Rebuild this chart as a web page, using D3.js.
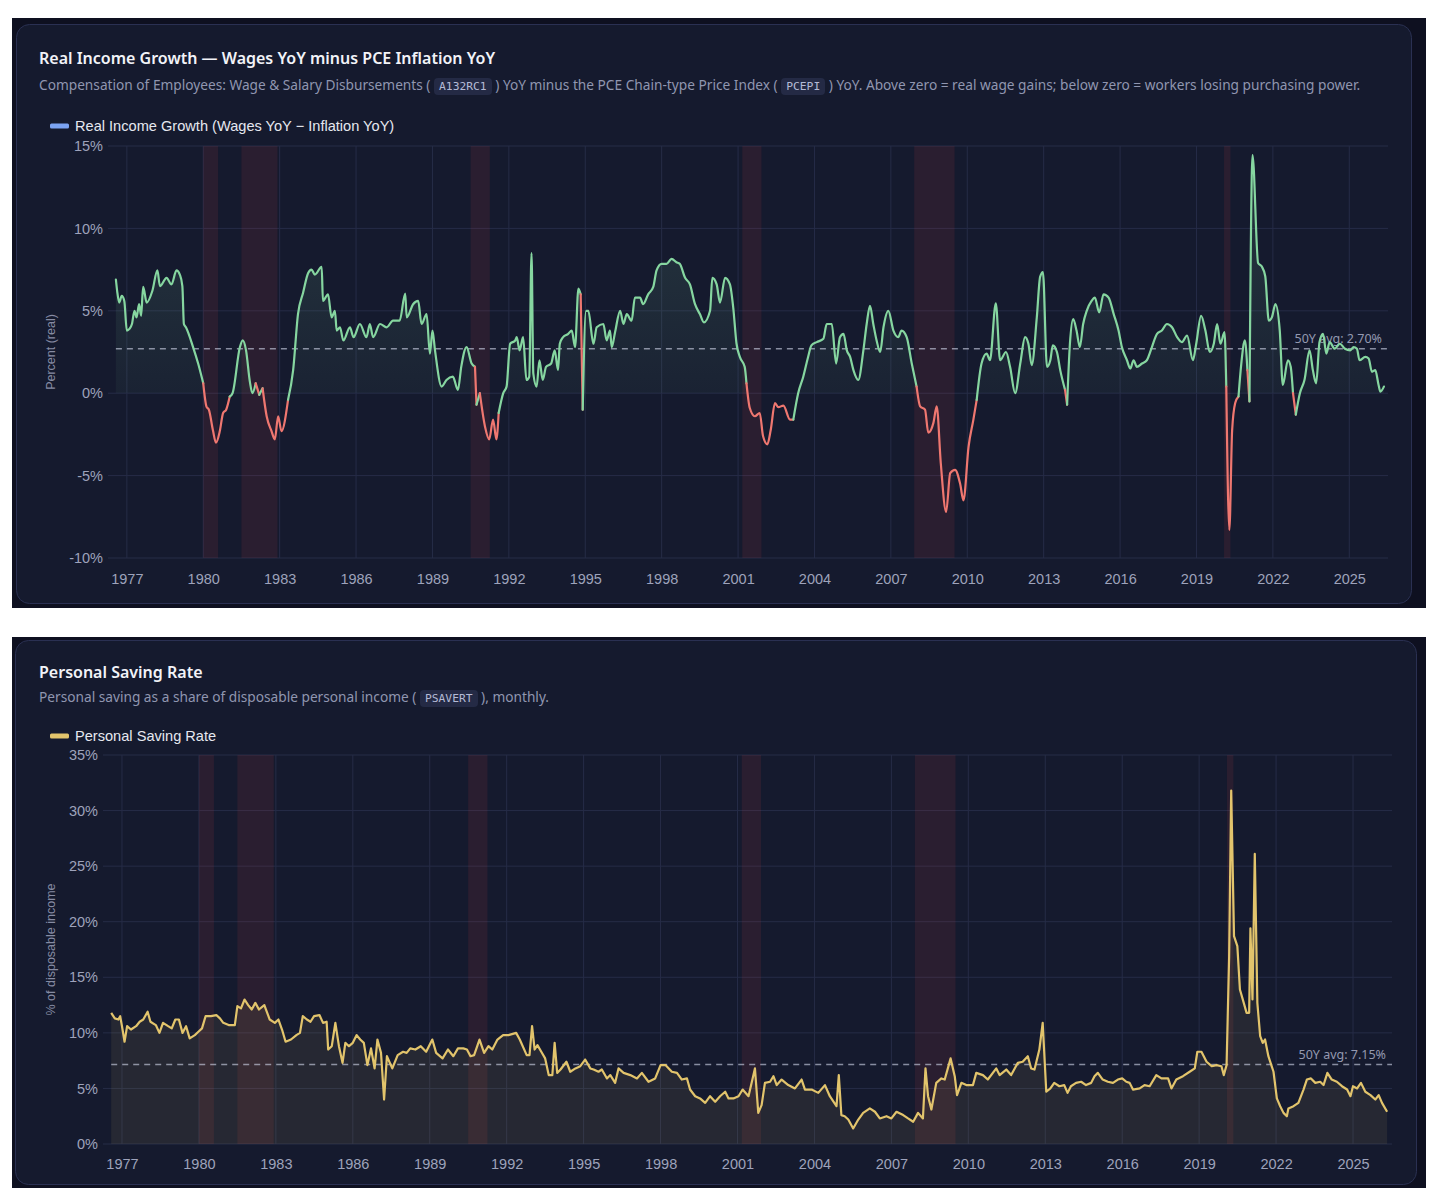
<!DOCTYPE html>
<html>
<head>
<meta charset="utf-8">
<script src="https://cdn.jsdelivr.net/npm/d3@7"></script>
<style>
  body { margin: 0; background: #ffffff; }
  #page { position: relative; width: 1456px; height: 1200px; }
  svg { position: absolute; left: 0; top: 0; display: block; }
  .card-title { position: absolute; left: 39px; font: 600 16px "Noto Sans", sans-serif; color: #f2f3f8; line-height: 20px; white-space: nowrap; }
  .card-sub { position: absolute; left: 39px; font: 13.7px "Noto Sans", sans-serif; color: #9096b0; line-height: 18px; white-space: nowrap; }
  .card-sub code { font: 11.3px "DejaVu Sans Mono", monospace; color: #b4bad6; background: #242a45; border-radius: 4px; padding: 2px 5px; }
</style>
</head>
<body>
<div id="page"></div>
<script>
// ---- data -------------------------------------------------------------
const yearTicks = d3.range(1977, 2026, 3);

// NBER recessions, first and last month
const recessions = [
  ['1980-01', '1980-07'], ['1981-07', '1982-11'], ['1990-07', '1991-03'],
  ['2001-03', '2001-11'], ['2007-12', '2009-06'], ['2020-02', '2020-04'],
];

// wages YoY minus PCE inflation YoY, [year, %]
const realIncome = [
  [1976.57,6.9],[1976.62,6.2],[1976.7,5.5],[1976.8,5.9],[1976.9,5.6],[1977.0,3.8],[1977.1,3.9],[1977.2,4.2],
  [1977.3,5.0],[1977.38,4.6],[1977.48,5.4],[1977.56,4.7],[1977.64,6.45],[1977.78,5.5],[1978.0,6.2],[1978.2,7.45],
  [1978.3,6.5],[1978.56,7.0],[1978.75,6.6],[1978.95,7.45],[1979.08,7.2],[1979.18,6.5],[1979.24,4.2],[1979.32,4.0],
  [1979.6,2.8],[1979.8,1.8],[1980.0,0.6],[1980.13,-0.83],[1980.22,-1.0],[1980.38,-2.25],[1980.5,-3.0],[1980.65,-2.3],
  [1980.78,-1.2],[1980.9,-1.0],[1981.04,-0.2],[1981.15,0.0],[1981.44,2.8],[1981.55,3.2],[1981.68,2.6],[1981.83,0.7],
  [1981.93,0.0],[1982.06,0.6],[1982.2,-0.1],[1982.33,0.3],[1982.49,-1.4],[1982.68,-2.3],[1982.81,-2.8],[1982.94,-1.4],
  [1983.07,-2.3],[1983.33,-0.4],[1983.53,1.4],[1983.72,4.8],[1983.92,6.1],[1984.12,7.3],[1984.25,7.5],[1984.38,7.2],
  [1984.65,7.66],[1984.7,5.6],[1984.9,6.0],[1985.04,4.6],[1985.17,5.0],[1985.24,3.8],[1985.37,4.0],[1985.5,3.2],
  [1985.76,4.0],[1985.9,3.4],[1986.15,4.2],[1986.41,3.4],[1986.54,4.2],[1986.67,3.4],[1986.94,4.2],[1987.2,4.0],
  [1987.45,4.4],[1987.71,4.4],[1987.93,6.05],[1987.99,4.6],[1988.24,5.4],[1988.44,5.6],[1988.57,4.2],[1988.77,4.8],
  [1988.9,2.4],[1989.0,3.8],[1989.1,2.6],[1989.36,0.4],[1989.55,0.8],[1989.8,1.0],[1990.0,0.2],[1990.13,1.6],
  [1990.34,2.8],[1990.54,1.8],[1990.67,1.6],[1990.73,-0.7],[1990.86,0.0],[1991.06,-2.0],[1991.23,-2.8],[1991.38,-1.6],
  [1991.51,-2.8],[1991.6,-1.2],[1991.78,0.0],[1991.91,0.4],[1992.05,3.0],[1992.25,3.2],[1992.31,3.4],[1992.42,2.6],
  [1992.56,3.4],[1992.69,0.8],[1992.8,1.0],[1992.89,8.5],[1992.96,1.2],[1993.09,0.4],[1993.2,2.0],[1993.33,0.8],
  [1993.46,1.6],[1993.66,1.8],[1993.8,2.6],[1993.93,1.4],[1994.0,3.0],[1994.13,3.4],[1994.33,3.6],[1994.47,3.8],
  [1994.6,2.8],[1994.73,6.35],[1994.82,6.0],[1994.9,-1.0],[1995.03,5.0],[1995.12,5.0],[1995.32,3.0],[1995.45,4.0],
  [1995.71,4.2],[1995.84,3.2],[1995.97,3.8],[1996.04,2.8],[1996.17,3.7],[1996.37,5.0],[1996.5,4.2],[1996.63,4.8],
  [1996.82,4.4],[1996.95,5.8],[1997.15,5.8],[1997.27,5.4],[1997.47,6.0],[1997.67,6.45],[1997.8,7.45],[1998.0,7.85],
  [1998.19,7.85],[1998.39,8.15],[1998.58,7.95],[1998.71,7.85],[1998.92,7.0],[1999.11,6.6],[1999.31,5.4],[1999.5,4.8],
  [1999.66,4.3],[1999.9,5.0],[1999.99,7.0],[2000.16,6.6],[2000.29,5.5],[2000.49,7.0],[2000.68,6.6],[2000.81,5.2],
  [2000.94,3.0],[2001.07,2.2],[2001.26,1.6],[2001.33,0.6],[2001.46,-0.9],[2001.66,-1.4],[2001.85,-1.2],[2001.98,-2.6],
  [2002.15,-3.1],[2002.28,-2.25],[2002.45,-0.6],[2002.58,-0.85],[2002.78,-0.75],[2003.04,-1.6],[2003.17,-1.6],[2003.36,0.0],
  [2003.56,1.0],[2003.75,2.2],[2003.88,2.9],[2004.09,3.1],[2004.35,3.3],[2004.48,4.2],[2004.68,4.2],[2004.85,1.8],
  [2005.0,3.4],[2005.14,3.6],[2005.27,2.6],[2005.4,2.2],[2005.53,1.4],[2005.72,0.8],[2005.92,2.6],[2006.05,4.2],
  [2006.18,5.3],[2006.31,4.2],[2006.44,3.2],[2006.58,2.5],[2006.71,4.0],[2006.9,5.0],[2007.1,3.8],[2007.29,3.4],
  [2007.42,3.8],[2007.62,3.4],[2007.82,1.8],[2008.01,0.4],[2008.15,-0.8],[2008.34,-1.0],[2008.47,-2.4],[2008.67,-1.8],
  [2008.8,-0.8],[2008.96,-4.25],[2009.17,-7.2],[2009.33,-4.85],[2009.52,-4.65],[2009.72,-5.5],[2009.85,-6.5],[2010.05,-3.25],
  [2010.24,-1.6],[2010.37,-0.4],[2010.56,1.8],[2010.76,2.4],[2010.89,2.0],[2011.12,5.45],[2011.29,2.0],[2011.52,2.5],
  [2011.68,1.6],[2011.88,0.0],[2012.08,1.8],[2012.27,3.4],[2012.4,3.0],[2012.53,1.7],[2012.73,4.6],[2012.86,7.06],
  [2012.97,7.35],[2013.13,1.6],[2013.26,2.0],[2013.36,2.9],[2013.52,2.5],[2013.65,1.4],[2013.84,0.2],[2013.92,-0.7],
  [2014.03,3.0],[2014.16,4.5],[2014.29,3.8],[2014.42,2.8],[2014.55,4.2],[2014.69,5.0],[2014.88,5.6],[2015.01,5.8],
  [2015.18,4.9],[2015.35,6.0],[2015.55,5.8],[2015.75,4.8],[2015.94,3.8],[2016.07,2.8],[2016.27,2.0],[2016.4,1.5],
  [2016.53,2.0],[2016.66,1.6],[2016.86,1.8],[2017.05,2.0],[2017.25,2.8],[2017.45,3.6],[2017.64,3.8],[2017.84,4.2],
  [2018.04,4.0],[2018.24,3.4],[2018.43,3.1],[2018.63,3.5],[2018.86,2.0],[2018.99,3.0],[2019.18,4.7],[2019.35,3.8],
  [2019.52,2.5],[2019.68,3.0],[2019.81,4.2],[2019.94,3.0],[2020.1,3.7],[2020.17,0.4],[2020.29,-8.3],[2020.4,-2.25],
  [2020.52,-0.6],[2020.65,-0.2],[2020.76,1.8],[2020.9,3.2],[2021.0,1.4],[2021.08,-0.5],[2021.2,14.45],[2021.42,7.9],
  [2021.56,7.7],[2021.7,7.1],[2021.84,4.4],[2021.96,4.6],[2022.1,5.4],[2022.27,3.8],[2022.39,0.5],[2022.59,2.0],
  [2022.7,1.6],[2022.79,0.0],[2022.9,-1.3],[2023.06,0.0],[2023.24,0.8],[2023.44,2.6],[2023.57,1.4],[2023.7,0.6],
  [2023.83,3.1],[2023.97,3.6],[2024.1,2.4],[2024.23,3.1],[2024.43,2.7],[2024.63,3.0],[2024.83,2.7],[2025.04,2.6],
  [2025.17,2.8],[2025.3,2.7],[2025.4,2.0],[2025.63,2.2],[2025.76,2.1],[2025.89,1.3],[2026.02,1.4],[2026.15,0.5],
  [2026.22,0.1],[2026.36,0.4],
];
const realIncomeAvg = 2.70;

// PSAVERT, [year, %]
const savingRate = [
  [1976.58,11.8],[1976.72,11.3],[1976.86,11.2],[1976.93,11.5],[1977.0,10.6],[1977.1,9.2],[1977.2,10.6],[1977.35,10.3],
  [1977.55,10.6],[1977.69,11.0],[1977.83,11.2],[1978.0,11.9],[1978.11,11.0],[1978.32,10.7],[1978.46,10.0],[1978.6,10.9],
  [1978.8,10.6],[1978.94,10.4],[1979.08,11.2],[1979.22,11.2],[1979.36,10.0],[1979.5,10.6],[1979.64,9.5],[1979.84,9.8],
  [1979.98,10.1],[1980.12,10.4],[1980.26,11.5],[1980.47,11.5],[1980.68,11.6],[1980.82,11.3],[1980.95,10.9],[1981.16,10.7],
  [1981.4,10.7],[1981.5,12.4],[1981.64,12.2],[1981.78,13.0],[1981.92,12.5],[1982.06,12.1],[1982.2,12.7],[1982.34,12.1],
  [1982.55,12.5],[1982.76,11.2],[1982.96,10.9],[1983.1,11.2],[1983.24,10.3],[1983.38,9.2],[1983.59,9.4],[1983.8,9.8],
  [1983.94,10.0],[1984.05,11.5],[1984.21,11.2],[1984.35,11.0],[1984.49,11.5],[1984.7,11.6],[1984.84,10.9],[1984.98,11.0],
  [1985.04,8.5],[1985.18,8.8],[1985.32,10.9],[1985.46,8.8],[1985.6,7.3],[1985.71,9.1],[1985.85,8.8],[1986.0,9.1],
  [1986.15,9.8],[1986.29,9.4],[1986.43,9.1],[1986.57,7.1],[1986.71,8.6],[1986.85,6.8],[1986.96,9.4],[1987.1,8.2],
  [1987.22,4.0],[1987.33,7.9],[1987.54,6.8],[1987.75,8.0],[1987.96,8.3],[1988.1,8.2],[1988.24,8.6],[1988.44,8.5],
  [1988.65,8.8],[1988.86,8.3],[1989.1,9.4],[1989.25,8.2],[1989.5,7.7],[1989.71,8.5],[1989.92,7.9],[1990.1,8.6],
  [1990.31,8.6],[1990.45,8.5],[1990.59,7.9],[1990.73,8.0],[1990.94,9.4],[1991.12,8.2],[1991.29,8.8],[1991.44,8.5],
  [1991.64,9.4],[1991.86,9.8],[1992.07,9.8],[1992.37,10.0],[1992.51,9.4],[1992.78,8.0],[1992.89,8.0],[1992.99,10.6],
  [1993.09,8.5],[1993.2,8.9],[1993.35,8.3],[1993.5,7.7],[1993.64,6.2],[1993.78,6.2],[1993.87,9.1],[1993.97,6.4],
  [1994.1,6.7],[1994.33,7.4],[1994.48,6.5],[1994.68,6.8],[1994.87,7.0],[1995.06,7.6],[1995.26,6.8],[1995.39,6.7],
  [1995.58,6.5],[1995.71,6.7],[1995.91,5.9],[1996.04,6.2],[1996.23,5.5],[1996.36,6.8],[1996.56,6.4],[1996.82,6.2],
  [1997.08,5.9],[1997.27,6.4],[1997.53,5.6],[1997.79,5.9],[1998.0,7.1],[1998.19,7.1],[1998.44,6.5],[1998.64,6.4],
  [1998.83,5.8],[1999.03,5.9],[1999.15,4.9],[1999.35,4.3],[1999.54,4.1],[1999.74,3.7],[1999.93,4.3],[2000.13,3.8],
  [2000.32,4.3],[2000.52,4.7],[2000.65,4.1],[2000.84,4.1],[2001.04,4.3],[2001.2,4.9],[2001.43,4.3],[2001.68,6.8],
  [2001.81,2.8],[2001.94,3.5],[2002.07,5.5],[2002.27,5.6],[2002.4,6.1],[2002.53,5.3],[2002.72,5.8],[2002.98,5.3],
  [2003.24,5.0],[2003.5,5.8],[2003.63,4.9],[2003.89,4.9],[2004.15,4.6],[2004.41,5.3],[2004.6,4.3],[2004.86,3.4],
  [2004.95,6.2],[2005.05,2.6],[2005.18,2.5],[2005.32,2.2],[2005.51,1.4],[2005.71,2.2],[2005.9,2.8],[2006.16,3.2],
  [2006.36,2.9],[2006.55,2.3],[2006.81,2.5],[2007.0,2.3],[2007.2,2.9],[2007.46,2.6],[2007.65,2.3],[2007.85,2.0],
  [2008.04,2.8],[2008.23,2.3],[2008.33,6.8],[2008.43,4.3],[2008.56,3.1],[2008.75,5.5],[2008.95,5.9],[2009.08,5.8],
  [2009.31,7.7],[2009.47,6.1],[2009.56,4.4],[2009.73,5.5],[2009.92,5.3],[2010.18,5.3],[2010.31,6.4],[2010.57,6.2],
  [2010.76,5.8],[2011.09,6.8],[2011.22,6.2],[2011.48,6.7],[2011.67,6.2],[2011.93,7.3],[2012.12,7.4],[2012.32,7.9],
  [2012.45,6.8],[2012.58,6.7],[2012.77,8.5],[2012.9,10.9],[2013.04,4.7],[2013.2,5.0],[2013.35,5.5],[2013.55,5.2],
  [2013.74,5.3],[2013.87,4.6],[2014.0,5.2],[2014.2,5.5],[2014.4,5.6],[2014.59,5.3],[2014.79,5.5],[2014.92,6.1],
  [2015.05,6.4],[2015.24,5.8],[2015.44,5.6],[2015.64,5.5],[2015.83,5.8],[2016.0,5.9],[2016.16,5.6],[2016.29,5.5],
  [2016.42,4.9],[2016.68,5.0],[2016.87,5.3],[2017.07,5.2],[2017.33,6.2],[2017.53,5.9],[2017.79,5.9],[2017.92,5.0],
  [2018.11,5.8],[2018.37,6.1],[2018.63,6.5],[2018.83,6.8],[2018.93,8.3],[2019.09,8.3],[2019.29,7.4],[2019.49,7.0],
  [2019.68,7.1],[2019.87,7.0],[2019.96,6.2],[2020.07,7.1],[2020.17,16.9],[2020.25,31.8],[2020.36,18.7],[2020.49,17.8],
  [2020.59,13.9],[2020.74,12.7],[2020.85,11.8],[2020.95,11.8],[2021.0,19.4],[2021.08,13.0],[2021.17,26.1],[2021.27,12.7],
  [2021.38,9.7],[2021.48,9.1],[2021.57,9.4],[2021.7,7.9],[2021.9,6.5],[2022.03,4.1],[2022.16,3.4],[2022.29,2.8],
  [2022.42,2.5],[2022.48,3.2],[2022.68,3.4],[2022.87,3.7],[2023.07,4.9],[2023.2,5.8],[2023.36,5.9],[2023.53,5.5],
  [2023.72,5.6],[2023.85,5.3],[2024.0,6.4],[2024.17,5.8],[2024.37,5.6],[2024.57,5.2],[2024.77,4.9],[2024.9,4.3],
  [2025.0,5.2],[2025.16,5.0],[2025.31,5.5],[2025.48,4.7],[2025.68,4.4],[2025.87,4.0],[2026.0,4.4],[2026.13,3.7],
  [2026.33,2.9],
];
const savingAvg = 7.15;

// ---- layout -------------------------------------------------------------
const W = 1456, H = 1200;
const timeDomain = [1976.26, 2026.52];
const GREEN = '#86d6a0', RED = '#ef7770', GOLD = '#e2c46c';
const GRID = '#262c47';
const TICK_FONT = '"Liberation Sans", Arial, sans-serif';
const TICK_SIZE = 14.5;

const page = d3.select('#page');
const svg = page.append('svg').attr('width', W).attr('height', H);
const defs = svg.append('defs');

const ymToYear = (s) => { const [y, m] = s.split('-').map(Number); return y + (m - 1) / 12; };

function drawCard(c) {
  svg.append('rect').attr('x', c.frame[0]).attr('y', c.frame[1]).attr('width', c.frame[2]).attr('height', c.frame[3])
    .attr('fill', '#0e1020');
  svg.append('rect').attr('x', c.card[0]).attr('y', c.card[1]).attr('width', c.card[2]).attr('height', c.card[3])
    .attr('rx', 13).attr('fill', '#151a2e').attr('stroke', '#2a3052').attr('stroke-width', 1);

  page.append('div').attr('class', 'card-title').style('top', `${c.titleTop}px`).text(c.title);
  page.append('div').attr('class', 'card-sub').style('top', `${c.subTop}px`).html(c.subtitle);

  svg.append('rect').attr('x', 50).attr('y', c.legendY - 2.5).attr('width', 19).attr('height', 5).attr('rx', 1.5)
    .attr('fill', c.legendColor);
  svg.append('text').attr('x', 75).attr('y', c.legendY + 5).attr('font-family', TICK_FONT).attr('font-size', 14.6)
    .attr('fill', '#e6e8f0').text(c.legend);
}

function drawPlot(c) {
  const x = d3.scaleLinear().domain(timeDomain).range([c.left, c.right]);
  const y = d3.scaleLinear().domain(c.yDomain).range([c.bottom, c.top]);
  const g = svg.append('g');

  // grid
  g.append('g').selectAll('line').data(c.yTicks).join('line')
    .attr('x1', c.left).attr('x2', c.right).attr('y1', (d) => y(d)).attr('y2', (d) => y(d))
    .attr('stroke', GRID).attr('stroke-width', 1);
  g.append('g').selectAll('line').data(yearTicks).join('line')
    .attr('x1', (d) => x(d)).attr('x2', (d) => x(d)).attr('y1', c.top).attr('y2', c.bottom)
    .attr('stroke', GRID).attr('stroke-width', 1);

  // recession bands
  g.append('g').selectAll('rect').data(recessions).join('rect')
    .attr('x', (d) => x(ymToYear(d[0])))
    .attr('width', (d) => x(ymToYear(d[1]) + 1 / 12) - x(ymToYear(d[0])))
    .attr('y', c.top).attr('height', c.bottom - c.top)
    .attr('fill', 'rgba(239,68,68,0.10)');

  // axes labels
  const yAxis = g.append('g').attr('transform', `translate(${c.left - 5},0)`)
    .call(d3.axisLeft(y).tickValues(c.yTicks).tickSize(0).tickPadding(0).tickFormat((d) => `${d}%`));
  yAxis.select('.domain').remove();
  yAxis.selectAll('text').attr('font-family', TICK_FONT).attr('font-size', TICK_SIZE).attr('fill', '#9ea3bb');

  const xAxis = g.append('g').attr('transform', `translate(0,${c.bottom})`)
    .call(d3.axisBottom(x).tickValues(yearTicks).tickSize(0).tickPadding(0).tickFormat(d3.format('d')));
  xAxis.select('.domain').remove();
  xAxis.selectAll('text').attr('font-family', TICK_FONT).attr('font-size', TICK_SIZE).attr('fill', '#9ea3bb')
    .attr('dy', null).attr('y', c.xLabelY - c.bottom);

  g.append('text')
    .attr('transform', `translate(${c.axisTitleX},${(c.top + c.bottom) / 2}) rotate(-90)`)
    .attr('text-anchor', 'middle').attr('font-family', TICK_FONT).attr('font-size', 12.5).attr('fill', '#868ba3')
    .text(c.axisTitle);

  return { x, y, g };
}

function drawAvg(p, c, data, avg) {
  p.g.append('line')
    .attr('x1', p.x(data[0][0])).attr('x2', c.right).attr('y1', p.y(avg)).attr('y2', p.y(avg))
    .attr('stroke', 'rgba(214,218,238,0.6)').attr('stroke-width', 1.5).attr('stroke-dasharray', '6,5');
  p.g.append('text')
    .attr('x', c.avgLabelX).attr('y', p.y(avg) - 6).attr('text-anchor', 'end')
    .attr('font-family', '"Noto Sans", sans-serif').attr('font-size', 12.5).attr('fill', '#9499b0')
    .text(`50Y avg: ${avg.toFixed(2)}%`);
}

// ---- card 1: real income growth -----------------------------------------
const c1 = {
  frame: [12, 18, 1414, 590], card: [16.5, 24.5, 1395, 579],
  titleTop: 48, subTop: 76, legendY: 126,
  title: 'Real Income Growth — Wages YoY minus PCE Inflation YoY',
  subtitle: 'Compensation of Employees: Wage &amp; Salary Disbursements ( <code>A132RC1</code> ) YoY minus the PCE Chain-type Price Index ( <code>PCEPI</code> ) YoY. Above zero = real wage gains; below zero = workers losing purchasing power.',
  legend: 'Real Income Growth (Wages YoY − Inflation YoY)', legendColor: '#7ba3f2',
  left: 108, right: 1388, top: 146, bottom: 558, yDomain: [-10, 15], yTicks: [-10, -5, 0, 5, 10, 15],
  xLabelY: 584, axisTitleX: 55, axisTitle: 'Percent (real)', avgLabelX: 1382,
};
drawCard(c1);
const p1 = drawPlot(c1);

const grad = defs.append('linearGradient').attr('id', 'realFill')
  .attr('gradientUnits', 'userSpaceOnUse').attr('x1', 0).attr('x2', 0).attr('y1', p1.y(8)).attr('y2', p1.y(0));
grad.append('stop').attr('offset', 0).attr('stop-color', GREEN).attr('stop-opacity', 0.11);
grad.append('stop').attr('offset', 1).attr('stop-color', GREEN).attr('stop-opacity', 0.045);
defs.append('clipPath').attr('id', 'abovezero').append('rect')
  .attr('x', c1.left).attr('y', c1.top).attr('width', c1.right - c1.left).attr('height', p1.y(0) - c1.top);

const curve1 = d3.curveMonotoneX;
p1.g.append('path').datum(realIncome)
  .attr('clip-path', 'url(#abovezero)')
  .attr('fill', 'url(#realFill)')
  .attr('d', d3.area().curve(curve1).x((d) => p1.x(d[0])).y0(p1.y(0)).y1((d) => p1.y(d[1])));

drawAvg(p1, c1, realIncome, realIncomeAvg);

// colour each stretch by the sign of its end point
const runs = [];
for (let i = 1; i < realIncome.length; i++) {
  const neg = realIncome[i][1] < 0;
  const last = runs[runs.length - 1];
  if (last && last.neg === neg) last.pts.push(realIncome[i]);
  else runs.push({ neg, pts: [realIncome[i - 1], realIncome[i]] });
}
const line1 = d3.line().curve(curve1).x((d) => p1.x(d[0])).y((d) => p1.y(d[1]));
p1.g.append('g').selectAll('path').data(runs).join('path')
  .attr('d', (r) => line1(r.pts))
  .attr('fill', 'none').attr('stroke', (r) => (r.neg ? RED : GREEN))
  .attr('stroke-width', 2.2).attr('stroke-linejoin', 'round').attr('stroke-linecap', 'round');

// ---- card 2: personal saving rate ----------------------------------------
const c2 = {
  frame: [12, 637, 1414, 551], card: [15.5, 640.5, 1401, 544],
  titleTop: 662, subTop: 688, legendY: 736,
  title: 'Personal Saving Rate',
  subtitle: 'Personal saving as a share of disposable personal income ( <code>PSAVERT</code> ), monthly.',
  legend: 'Personal Saving Rate', legendColor: GOLD,
  left: 103, right: 1392, top: 755, bottom: 1144, yDomain: [0, 35], yTicks: [0, 5, 10, 15, 20, 25, 30, 35],
  xLabelY: 1169, axisTitleX: 55, axisTitle: '% of disposable income', avgLabelX: 1386,
};
drawCard(c2);
const p2 = drawPlot(c2);

p2.g.append('path').datum(savingRate)
  .attr('fill', 'rgba(226,196,108,0.085)')
  .attr('d', d3.area().x((d) => p2.x(d[0])).y0(p2.y(0)).y1((d) => p2.y(d[1])));
drawAvg(p2, c2, savingRate, savingAvg);
p2.g.append('path').datum(savingRate)
  .attr('fill', 'none').attr('stroke', GOLD).attr('stroke-width', 2.2).attr('stroke-linejoin', 'round')
  .attr('d', d3.line().x((d) => p2.x(d[0])).y((d) => p2.y(d[1])));
</script>
</body>
</html>
